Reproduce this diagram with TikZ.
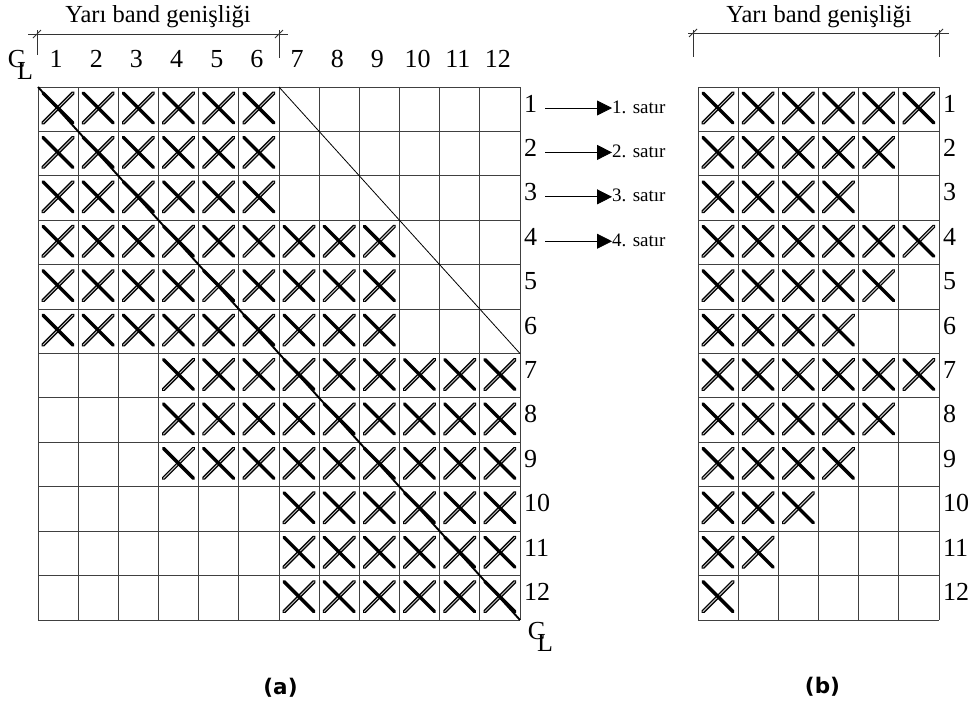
\documentclass[tikz,border=0pt]{standalone}
\usepackage{fontspec}
\setmainfont{Liberation Serif}
\newfontfamily\capfont{DejaVu Sans}
\usetikzlibrary{arrows.meta}
\newcommand\crossat[2]{%
  \draw[xb] ({#1+5},{#2+36}) -- ({#1+35},{#2+6});
  \draw[xa] ({#1+5},{#2+6}) -- ({#1+35},{#2+36});}
\begin{document}
\begin{tikzpicture}[x=1pt,y=-1pt,
  gridline/.style={draw=black!75, line width=0.9pt},
  xa/.style={draw=black, line width=3.4pt, line cap=round},
  xb/.style={draw=black, double=gray!45, double distance=0.9pt, line width=1.4pt, line cap=round},
  num/.style={font=\fontsize{26}{28}\selectfont, inner sep=0pt},
  ttl/.style={font=\fontsize{24.5}{26}\selectfont, inner sep=0pt},
  small/.style={font=\fontsize{19}{21}\selectfont, inner sep=0pt},
  capt/.style={font=\capfont\bfseries\fontsize{21.5}{23}\selectfont, inner sep=0pt},
  dim/.style={draw=black!80, line width=0.8pt},
  arr/.style={draw=black, line width=0.8pt, -{Triangle[length=15pt,width=15pt]}},
]
\useasboundingbox (0,0) rectangle (970,702);
\fill[white] (0,0) rectangle (970,702);
\def\cw{40.17}
\def\rh{44.42}
% ---------- (a) ----------
\foreach \ra/\rb/\ca/\cb in {1/3/1/6, 4/6/1/9, 7/9/4/12, 10/12/7/12}{
  \foreach \r in {\ra,...,\rb}{
    \foreach \c in {\ca,...,\cb}{
      \pgfmathsetmacro\xo{38+(\c-1)*\cw}
      \pgfmathsetmacro\yo{87+(\r-1)*\rh}
      \crossat{\xo}{\yo}
    }}}
\foreach \i in {0,...,12}{
  \draw[gridline] ({38+\i*\cw},87) -- ({38+\i*\cw},620);
  \draw[gridline] (38,{87+\i*\rh}) -- (520,{87+\i*\rh});
}
\coordinate (ga) at (38,87);
\coordinate (gb) at (520,620);
\coordinate (gc) at (279,87);
\coordinate (gd) at (520,353.5);
\draw[black, line width=1.9pt] (ga) -- (gb);
\draw[black, line width=0.8pt] (gc) -- (gd);
\foreach \c in {1,...,12}{
  \node[num, anchor=base] (ca\c) at ({38+(\c-0.5)*\cw-2},67) {\c};
}
\foreach \r in {1,...,12}{
  \node[num, anchor=base west] (ra\r) at (524,{87+(\r-1)*\rh+25}) {\r};
}
\foreach \r in {1,...,4}{
  \coordinate (sa\r) at (545,{87+(\r-1)*\rh+21});
  \node[small, anchor=base west] (st\r) at (612,{87+(\r-1)*\rh+26}) {\r. satır};
  \draw[arr] (sa\r) -- (sa\r -| st\r.west);
}
\node[ttl, anchor=base] (tia) at (158,22) {Yarı band genişliği};
\coordinate (da1) at (28,34);
\coordinate (da2) at (288,34);
\draw[dim] (da1) -- (da2);
\draw[dim] (37,30) -- (37,55);
\draw[dim] (279,30) -- (279,58);
\draw[dim] (33,38) -- (41,30);
\draw[dim] (275,38) -- (283,30);
\node[num] (cl1c) at (16.5,59) {C};
\node[num] (cl1l) at (25,71) {L};
\node[num] (cl2c) at (536.5,631) {C};
\node[num] (cl2l) at (545,643) {L};
\node[capt] (capa) at (280.5,688) {(a)};
% ---------- (b) ----------
\foreach \r/\n in {1/6,2/5,3/4,4/6,5/5,6/4,7/6,8/5,9/4,10/3,11/2,12/1}{
  \foreach \c in {1,...,\n}{
    \pgfmathsetmacro\xo{698+(\c-1)*\cw}
    \pgfmathsetmacro\yo{87+(\r-1)*\rh}
    \crossat{\xo}{\yo}
  }}
\foreach \i in {0,...,6}{
  \draw[gridline] ({698+\i*\cw},87) -- ({698+\i*\cw},620);
}
\foreach \i in {0,...,12}{
  \draw[gridline] (698,{87+\i*\rh}) -- (939,{87+\i*\rh});
}
\foreach \r in {1,...,12}{
  \node[num, anchor=base west] (rb\r) at (943,{87+(\r-1)*\rh+25}) {\r};
}
\node[ttl, anchor=base] (tib) at (819,22) {Yarı band genişliği};
\coordinate (db1) at (688,33);
\coordinate (db2) at (949,33);
\draw[dim] (db1) -- (db2);
\draw[dim] (693,30) -- (693,57);
\draw[dim] (939,30) -- (939,57);
\draw[dim] (689,37) -- (697,29);
\draw[dim] (935,37) -- (943,29);
\node[capt] (capb) at (822.5,687) {(b)};
\end{tikzpicture}
\end{document}
